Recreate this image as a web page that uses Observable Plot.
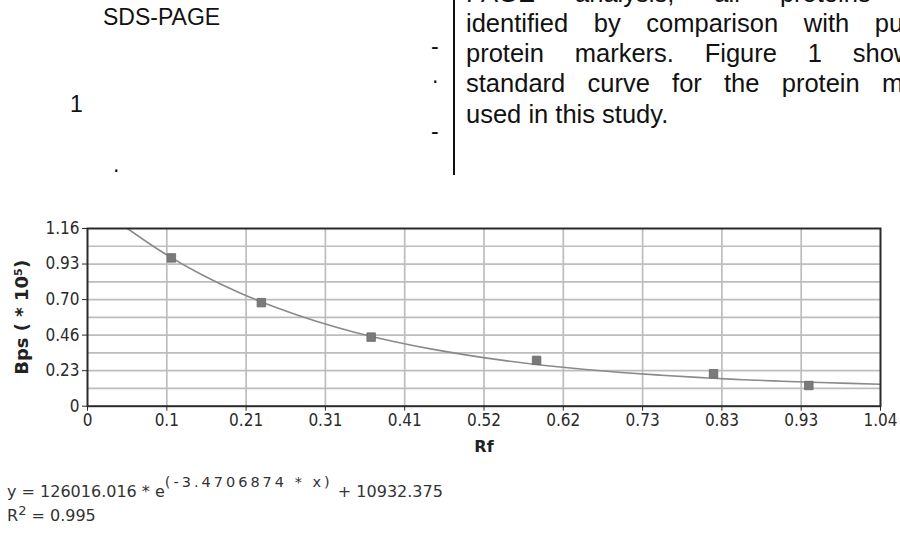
<!DOCTYPE html>
<html>
<head>
<meta charset="utf-8">
<script src="https://cdn.jsdelivr.net/npm/d3@7"></script>
<script src="https://cdn.jsdelivr.net/npm/@observablehq/plot@0.6"></script>
<style>
  html, body { margin: 0; padding: 0; background: #fff; }
  body { width: 900px; height: 535px; overflow: hidden; position: relative; font-family: "Liberation Sans", Arial, sans-serif; color: #111; }
  .t { position: absolute; line-height: 1; white-space: pre; }
  .l { font-size: 23px; }
  .r { font-size: 25.5px; text-align: justify; text-align-last: justify; white-space: normal; }
  #vline { position: absolute; left: 453px; top: 0; width: 1.5px; height: 175px; background: #111; }
  #chart { position: absolute; left: 0; top: 190px; }
  .eq { position: absolute; left: 7px; font-family: "DejaVu Sans", Verdana, sans-serif; font-size: 16px; color: #333; line-height: 1; white-space: pre; }
  .eq sup { line-height: 0; }
  .eq .s1 { font-size: 14.5px; vertical-align: 10px; letter-spacing: 3px; }
  .eq .s2 { font-size: 13px; vertical-align: 6px; }
</style>
</head>
<body>
<div class="t l" style="left:103px; top:5.5px;">SDS-PAGE</div>
<div class="t l" style="left:70px; top:92.5px;">1</div>
<div class="t l" style="left:113px; top:152.5px;">.</div>
<div class="t l" style="left:431px; top:34.5px;">-</div>
<div class="t l" style="left:432px; top:63.5px;">.</div>
<div class="t l" style="left:431px; top:119.5px;">-</div>
<div id="vline"></div>
<div class="t r" style="left:466px; top:-19px; width:500px;">PAGE analysis, all proteins were</div>
<div class="t r" style="left:466px; top:10.5px; width:518px;">identified by comparison with published</div>
<div class="t r" style="left:466px; top:41px; width:459px;">protein markers. Figure 1 shows</div>
<div class="t r" style="left:466px; top:71px; width:508px;">standard curve for the protein markers</div>
<div class="t" style="left:466px; top:101.8px; font-size:25.5px;">used in this study.</div>
<div id="chart"></div>
<div class="eq" style="top:481.5px;">y = 126016.016 * e<sup class="s1">(-3.4706874 * x)</sup> + 10932.375</div>
<div class="eq" style="top:508px;">R<sup class="s2">2</sup> = 0.995</div>
<script>
// Data
const rf  = [0.11, 0.228, 0.372, 0.589, 0.821, 0.946];
const bps = [0.968, 0.676, 0.451, 0.299, 0.212, 0.135];

// Fitted curve
const curveRf  = [0.0524, 0.1, 0.15, 0.2, 0.25, 0.3, 0.35, 0.4, 0.45, 0.5, 0.55, 0.6, 0.65, 0.7, 0.75, 0.8, 0.85, 0.9, 0.95, 1.0, 1.04];
const curveBps = [1.16, 1.000, 0.858, 0.739, 0.639, 0.554, 0.483, 0.424, 0.374, 0.332, 0.296, 0.266, 0.241, 0.220, 0.203, 0.188, 0.175, 0.165, 0.156, 0.149, 0.143];

// Tick labels
const xTickLabels = ["0", "0.1", "0.21", "0.31", "0.41", "0.52", "0.62", "0.73", "0.83", "0.93", "1.04"];
const yTickLabels = ["0", "0.23", "0.46", "0.70", "0.93", "1.16"];

const xMax = 1.04, yMax = 1.16;
const xTicks = xTickLabels.map((_, i) => i * xMax / (xTickLabels.length - 1));
const yTicks = yTickLabels.map((_, i) => i * yMax / (yTickLabels.length - 1));
const yGrid = d3.range(0, 11).map(i => i * yMax / 10);

const points = rf.map((x, i) => ({x, y: bps[i]}));
const curve = curveRf.map((x, i) => ({x, y: curveBps[i]}));

const tickFont = "'DejaVu Sans Condensed', 'Liberation Sans', Arial, sans-serif";

const chart = Plot.plot({
  width: 900,
  height: 270,
  marginLeft: 87,
  marginRight: 20,
  marginTop: 38,
  marginBottom: 54.3,
  style: { fontFamily: tickFont, fontSize: "17px", color: "#333", background: "transparent" },
  x: { domain: [0, xMax] },
  y: { domain: [0, yMax] },
  marks: [
    Plot.gridY(yGrid.slice(1, -1), { stroke: "#bdbdbd", strokeOpacity: 1, strokeWidth: 1.7 }),
    Plot.gridX(xTicks.slice(1, -1), { stroke: "#bdbdbd", strokeOpacity: 1, strokeWidth: 1.7 }),
    Plot.line(curve, { x: "x", y: "y", stroke: "#8a8a8a", strokeWidth: 1.6, curve: "natural", clip: true }),
    Plot.dot(points, { x: "x", y: "y", symbol: "square", r: 4.8, fill: "#7a7a7a", stroke: "#6a6a6a", strokeWidth: 0.8 }),
    Plot.frame({ stroke: "#2a2a2a", strokeWidth: 2 }),
    Plot.axisY(yTicks, { tickSize: 5, tickPadding: 3, tickFormat: (d, i) => yTickLabels[i], label: null, stroke: "#2a2a2a", fill: "#2a2a2a", fontSize: 17, fontFamily: tickFont }),
    Plot.axisX(xTicks, { tickSize: 5, tickPadding: 3, tickFormat: (d, i) => xTickLabels[i], label: null, stroke: "#2a2a2a", fill: "#2a2a2a", fontSize: 17, fontFamily: tickFont }),
    Plot.text(["Bps ( * 10⁵)"], { frameAnchor: "left", textAnchor: "middle", dx: -65, rotate: -90, fontWeight: "bold", fontSize: 18, fontFamily: "'DejaVu Sans', sans-serif", fill: "#222" }),
    Plot.text(["Rf"], { frameAnchor: "bottom", dy: 46, fontWeight: "bold", fontSize: 16, fontFamily: "'DejaVu Sans', sans-serif", fill: "#222" })
  ]
});
document.getElementById("chart").appendChild(chart);
</script>
</body>
</html>
